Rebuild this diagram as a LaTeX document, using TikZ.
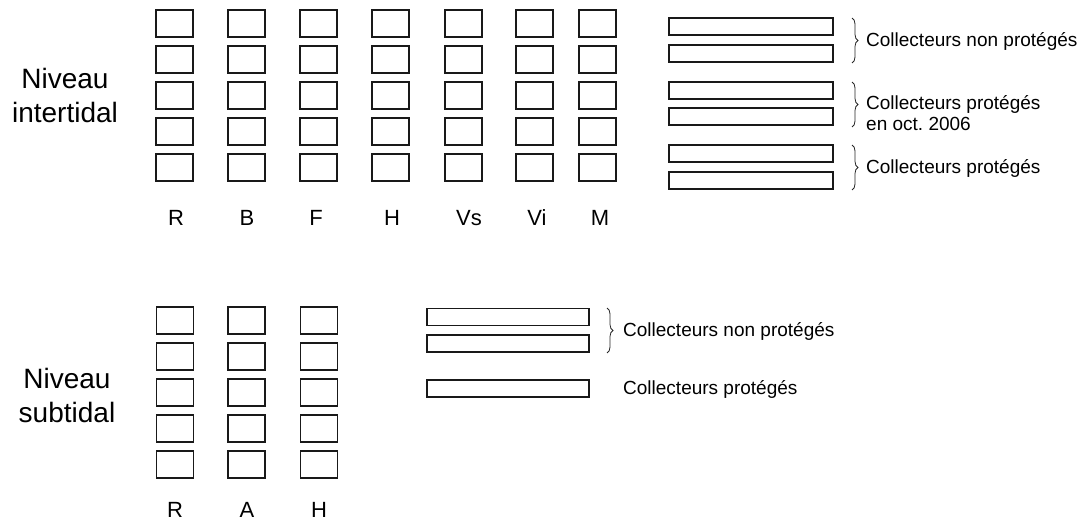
\documentclass[tikz,border=0pt]{standalone}
\usepackage{fontspec}
\setmainfont{Liberation Sans}
\usetikzlibrary{decorations.pathreplacing}
\frenchspacing
\begin{document}
\begin{tikzpicture}[x=1pt,y=-1pt,
  cell/.style={draw=black!90, line width=1.3pt, minimum width=37pt, minimum height=27pt, inner sep=0pt},
  bar/.style={draw=black!90, line width=1.3pt, minimum width=164pt, minimum height=17pt, inner sep=0pt},
  lab/.style={font=\fontsize{22}{26}\selectfont, inner sep=0pt},
  lvl/.style={font=\fontsize{28}{34}\selectfont, align=center, inner sep=0pt},
  note/.style={font=\fontsize{19}{20.5}\selectfont, inner sep=0pt, align=left},
  brc/.style={decorate, decoration={brace, amplitude=6pt}, line width=0.8pt, draw=black!85}]
\useasboundingbox (0,0) rectangle (1083,526);

% ---------- intertidal ----------
\node[lvl] (lvlA) at (65,95) {Niveau\\intertidal};
\foreach \cx/\ci in {174.5/1,246.5/2,318.5/3,390.5/4,463.5/5,534.5/6,597.5/7}{
  \foreach \cy/\ri in {23.5/1,59.5/2,95.5/3,131.5/4,167.5/5}{
    \node[cell] (t-\ci-\ri) at (\cx,\cy) {};
  }
}
\node[lab] (tl1) at (176,218) {R};
\node[lab] (tl2) at (247,218) {B};
\node[lab] (tl3) at (316,218) {F};
\node[lab] (tl4) at (392,218) {H};
\node[lab] (tl5) at (469,218) {Vs};
\node[lab] (tl6) at (537,218) {Vi};
\node[lab] (tl7) at (600,218) {M};

\foreach \cy/\ri in {26.5/1,53.5/2,90.5/3,116.5/4,153.5/5,180.5/6}{
  \node[bar] (tb-\ri) at (751,\cy) {};
}
\coordinate (b1s) at (852,18);  \coordinate (b1e) at (852,63);
\coordinate (b2s) at (852,82);  \coordinate (b2e) at (852,127);
\coordinate (b3s) at (852,145); \coordinate (b3e) at (852,190);
\draw[brc] (b1s) -- (b1e);
\draw[brc] (b2s) -- (b2e);
\draw[brc] (b3s) -- (b3e);
\node[note, anchor=west] (n1) at (866,41) {Collecteurs non protégés};
\node[note, anchor=north west] (n2) at (866,95.5) {Collecteurs protégés\\en oct. 2006};
\node[note, anchor=west] (n3) at (866,168) {Collecteurs protégés};

% ---------- subtidal ----------
\node[lvl] (lvlB) at (67,395) {Niveau\\subtidal};
\foreach \cx/\ci in {175/1,246.5/2,319/3}{
  \foreach \cy/\ri in {320.5/1,356.5/2,392.5/3,428.5/4,464.5/5}{
    \node[cell] (s-\ci-\ri) at (\cx,\cy) {};
  }
}
\node[lab] (sl1) at (175,510) {R};
\node[lab] (sl2) at (247,510) {A};
\node[lab] (sl3) at (319,510) {H};

\node[bar, minimum width=162pt] (sb-1) at (508,317) {};
\node[bar, minimum width=162pt] (sb-2) at (508,343.5) {};
\node[bar, minimum width=162pt] (sb-3) at (508,388.5) {};
\coordinate (b4s) at (607,308); \coordinate (b4e) at (607,353);
\draw[brc] (b4s) -- (b4e);
\node[note, anchor=west] (n4) at (623,331) {Collecteurs non protégés};
\node[note, anchor=west] (n5) at (623,389) {Collecteurs protégés};
\end{tikzpicture}
\end{document}
